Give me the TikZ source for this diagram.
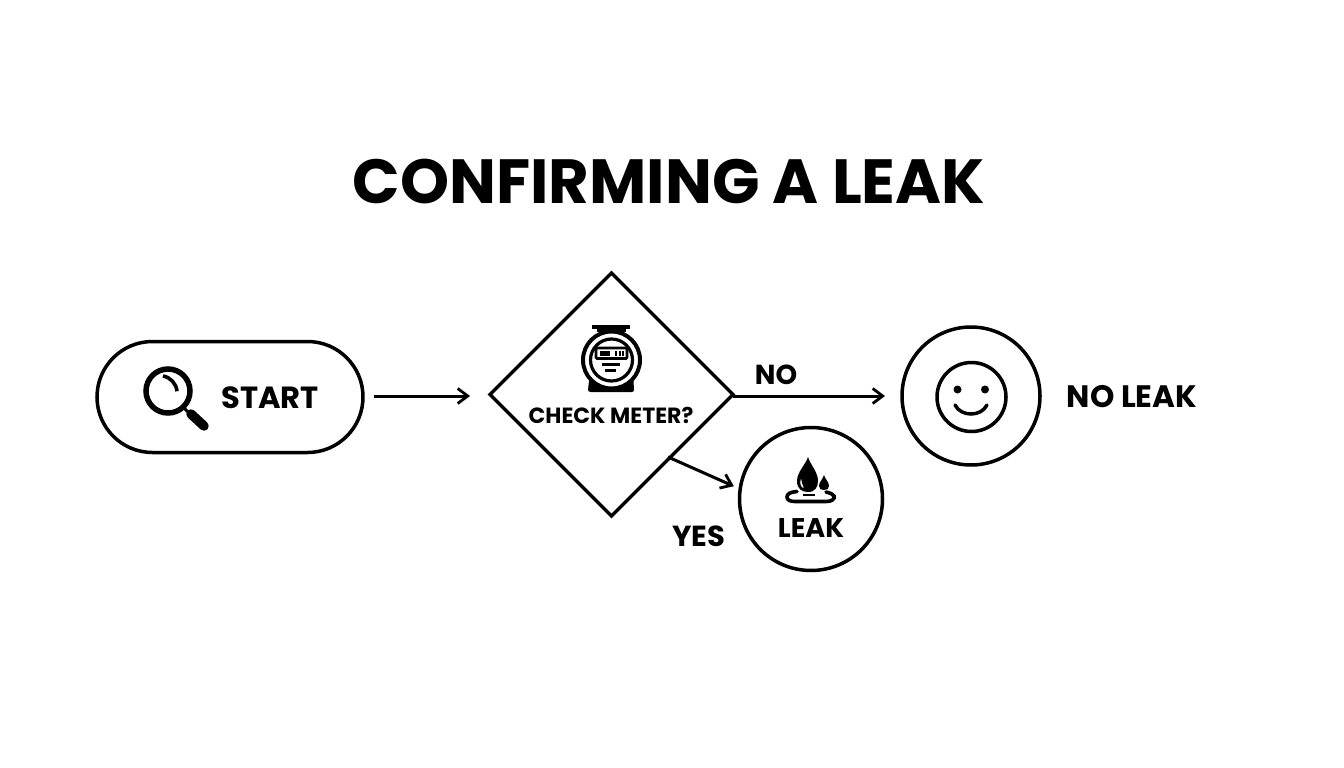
\documentclass[tikz,border=0pt]{standalone}
\usepackage{fontspec}
\setmainfont{Poppins}
\usetikzlibrary{shapes.geometric,shapes.misc,arrows.meta}
\tikzset{
  box/.style={draw=black,line width=3.5pt,fill=white,inner sep=0pt,outer sep=0pt},
  lbl/.style={font=\bfseries\fontsize{#1}{#1}\selectfont,text=black,inner sep=0pt},
  conn/.style={draw=black,line width=3pt,-{Straight Barb[length=10pt,width=15pt,line width=2.8pt]}},
  ink/.style={draw=black,line width=3.5pt},
}
\begin{document}
\begin{tikzpicture}[x=1pt,y=-1pt]
\useasboundingbox (0,0) rectangle (1344,768);
\fill[white] (0,0) rectangle (1344,768);
\node[lbl=62.4] (title) at (669,182) {CONFIRMING A LEAK};
% start
\node[box,rounded rectangle,minimum width=266pt,minimum height=111pt] (start) at (230,397) {};
\node[lbl=30.6] (starttxt) at (270,398) {START};
\draw[line width=5.5pt] (168,391) circle (22);
\draw[line width=3.6pt] (163,376) arc (-80:-5:17);
\draw[line width=3pt] (184,408) -- (190,414);
\draw[line width=9.5pt,line cap=round] (191,414) -- (204,426);
% diamond
\node[box,diamond,minimum width=243pt,minimum height=243pt,aspect=1] (dia) at (611.5,394.5) {};
\node[lbl=22] (diatxt) at (611,415) {CHECK METER?};
% meter
\fill (592,325) rectangle (630,329);
\fill (597,329) rectangle (626,332);
\fill (590,372) -- (633,372) -- (634,390) .. controls (634,391) and (633,392) .. (632,392) -- (591,392) .. controls (589,392) and (588,391) .. (588,390) -- cycle;
\draw[line width=4pt,fill=white] (611.5,360) circle (28.5);
\draw[line width=3.2pt] (611.5,360) circle (21);
\draw[line width=2.6pt,rounded corners=1pt] (596,348) rectangle (627,358.5);
\fill (600,351) rectangle (610,355.5);
\fill (615,351) rectangle (617,356);
\fill (618.5,351) rectangle (620.5,356);
\fill (622,351) rectangle (623.5,356);
\fill (602,363) rectangle (620,366);
\fill (605,369) rectangle (616,372);
% no leak
\node[box,circle,minimum size=138pt] (ok) at (971,396) {};
\node[lbl=31] (oktxt) at (1132,397) {NO LEAK};
\draw[ink] (971.5,397) circle (34.5);
\fill (957.5,389.5) circle (4);
\fill (985,389.5) circle (4);
\draw[ink,line cap=round] (955,405) .. controls (961,417) and (981,417) .. (987,405);
% leak
\node[box,circle,minimum size=143pt] (leak) at (811,499) {};
\node[lbl=27] (leaktxt) at (811,528) {LEAK};
\fill[even odd rule] (808,457) .. controls (806,464) and (797,472) .. (797,481) .. controls (797,489) and (802,492) .. (808,492) .. controls (815,492) and (818,487) .. (818,481) .. controls (818,472) and (810,464) .. (808,457) -- cycle
  (801,478) .. controls (799,484) and (801,488) .. (804,488) .. controls (802,485) and (802,482) .. (801,478) -- cycle;
\fill (824,475) .. controls (823,479) and (819,482) .. (819,486) .. controls (819,489) and (821,490) .. (824,490) .. controls (827,490) and (829,489) .. (829,486) .. controls (829,482) and (825,479) .. (824,475) -- cycle;
\draw[line width=3.6pt,line cap=round] (797,491.5) .. controls (790,492) and (787,494) .. (787,497) .. controls (787,500) and (790,501.5) .. (795,501.5) -- (826,501.5) .. controls (832,501.5) and (835,499) .. (834,496) .. controls (833,494) and (830,493) .. (826,492);
\fill (803,493.5) rectangle (815,496);
% connectors
\draw[conn,shorten <=11pt,shorten >=20pt] (start.east |- ok.west) -- (dia.west |- ok.west);
\draw[conn,shorten >=17pt] (dia.east |- ok.west) -- (ok.west);
\coordinate (yesfrom) at (668,457);
\draw[conn,shorten >=7pt] (yesfrom) -- (leak.172);
\node[lbl=27.5] (no) at (776,375) {NO};
\node[lbl=29] (yes) at (699,536) {YES};
\end{tikzpicture}
\end{document}
